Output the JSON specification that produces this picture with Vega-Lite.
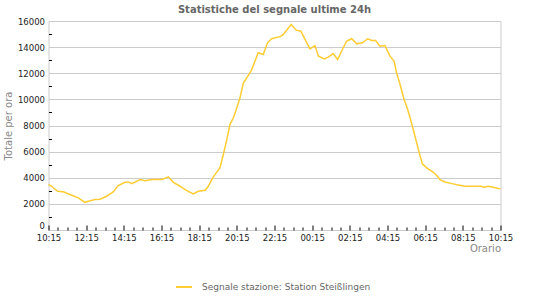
{
  "$schema": "https://vega.github.io/schema/vega-lite/v6.json",
  "width": 452,
  "height": 209,
  "autosize": {"type": "none"},
  "padding": {"left": 48.5, "top": 21, "right": 49.5, "bottom": 70},
  "title": {"text": "Statistiche del segnale ultime 24h", "font": "DejaVu Sans", "fontSize": 10, "fontWeight": "bold", "color": "#666666", "offset": 2, "anchor": "middle"},
  "config": {"view": {"stroke": "#cccccc"}, "font": "DejaVu Sans"},
  "data": {"values": [
    {"time": "2024-05-01T10:15", "value": 3500},
    {"time": "2024-05-01T10:25", "value": 3350},
    {"time": "2024-05-01T10:44", "value": 2960},
    {"time": "2024-05-01T11:02", "value": 2920},
    {"time": "2024-05-01T11:29", "value": 2660},
    {"time": "2024-05-01T11:50", "value": 2460},
    {"time": "2024-05-01T12:11", "value": 2120},
    {"time": "2024-05-01T12:22", "value": 2200},
    {"time": "2024-05-01T12:43", "value": 2330},
    {"time": "2024-05-01T12:59", "value": 2350},
    {"time": "2024-05-01T13:20", "value": 2580},
    {"time": "2024-05-01T13:41", "value": 2920},
    {"time": "2024-05-01T13:57", "value": 3400},
    {"time": "2024-05-01T14:19", "value": 3650},
    {"time": "2024-05-01T14:29", "value": 3680},
    {"time": "2024-05-01T14:40", "value": 3550},
    {"time": "2024-05-01T15:07", "value": 3860},
    {"time": "2024-05-01T15:22", "value": 3780},
    {"time": "2024-05-01T15:44", "value": 3860},
    {"time": "2024-05-01T16:16", "value": 3860},
    {"time": "2024-05-01T16:37", "value": 4070},
    {"time": "2024-05-01T16:53", "value": 3650},
    {"time": "2024-05-01T17:14", "value": 3350},
    {"time": "2024-05-01T17:30", "value": 3090},
    {"time": "2024-05-01T17:56", "value": 2760},
    {"time": "2024-05-01T18:12", "value": 2960},
    {"time": "2024-05-01T18:34", "value": 3040},
    {"time": "2024-05-01T18:44", "value": 3350},
    {"time": "2024-05-01T19:00", "value": 4070},
    {"time": "2024-05-01T19:21", "value": 4760},
    {"time": "2024-05-01T19:32", "value": 5780},
    {"time": "2024-05-01T19:43", "value": 6920},
    {"time": "2024-05-01T19:53", "value": 8070},
    {"time": "2024-05-01T20:04", "value": 8590},
    {"time": "2024-05-01T20:15", "value": 9350},
    {"time": "2024-05-01T20:25", "value": 10120},
    {"time": "2024-05-01T20:36", "value": 11270},
    {"time": "2024-05-01T20:50", "value": 11780},
    {"time": "2024-05-01T21:00", "value": 12160},
    {"time": "2024-05-01T21:11", "value": 12800},
    {"time": "2024-05-01T21:23", "value": 13570},
    {"time": "2024-05-01T21:39", "value": 13440},
    {"time": "2024-05-01T21:53", "value": 14330},
    {"time": "2024-05-01T22:06", "value": 14640},
    {"time": "2024-05-01T22:33", "value": 14800},
    {"time": "2024-05-01T22:43", "value": 14970},
    {"time": "2024-05-01T23:08", "value": 15730},
    {"time": "2024-05-01T23:24", "value": 15300},
    {"time": "2024-05-01T23:39", "value": 15220},
    {"time": "2024-05-01T23:58", "value": 14330},
    {"time": "2024-05-02T00:08", "value": 13870},
    {"time": "2024-05-02T00:24", "value": 14120},
    {"time": "2024-05-02T00:35", "value": 13310},
    {"time": "2024-05-02T00:54", "value": 13100},
    {"time": "2024-05-02T01:06", "value": 13230},
    {"time": "2024-05-02T01:22", "value": 13510},
    {"time": "2024-05-02T01:36", "value": 13050},
    {"time": "2024-05-02T01:54", "value": 13950},
    {"time": "2024-05-02T02:05", "value": 14460},
    {"time": "2024-05-02T02:21", "value": 14640},
    {"time": "2024-05-02T02:37", "value": 14250},
    {"time": "2024-05-02T02:55", "value": 14330},
    {"time": "2024-05-02T03:12", "value": 14640},
    {"time": "2024-05-02T03:25", "value": 14510},
    {"time": "2024-05-02T03:37", "value": 14510},
    {"time": "2024-05-02T03:51", "value": 14070},
    {"time": "2024-05-02T04:07", "value": 14120},
    {"time": "2024-05-02T04:23", "value": 13310},
    {"time": "2024-05-02T04:36", "value": 12920},
    {"time": "2024-05-02T04:44", "value": 12030},
    {"time": "2024-05-02T04:55", "value": 11140},
    {"time": "2024-05-02T05:08", "value": 9990},
    {"time": "2024-05-02T05:16", "value": 9480},
    {"time": "2024-05-02T05:27", "value": 8590},
    {"time": "2024-05-02T05:37", "value": 7690},
    {"time": "2024-05-02T05:48", "value": 6670},
    {"time": "2024-05-02T05:56", "value": 5910},
    {"time": "2024-05-02T06:06", "value": 5060},
    {"time": "2024-05-02T06:20", "value": 4760},
    {"time": "2024-05-02T06:41", "value": 4420},
    {"time": "2024-05-02T06:52", "value": 4170},
    {"time": "2024-05-02T07:02", "value": 3860},
    {"time": "2024-05-02T07:18", "value": 3680},
    {"time": "2024-05-02T07:40", "value": 3550},
    {"time": "2024-05-02T08:01", "value": 3450},
    {"time": "2024-05-02T08:22", "value": 3350},
    {"time": "2024-05-02T08:48", "value": 3350},
    {"time": "2024-05-02T09:12", "value": 3350},
    {"time": "2024-05-02T09:23", "value": 3270},
    {"time": "2024-05-02T09:36", "value": 3350},
    {"time": "2024-05-02T09:52", "value": 3270},
    {"time": "2024-05-02T10:08", "value": 3170},
    {"time": "2024-05-02T10:15", "value": 3150}
  ]},
  "layer": [
    {
      "mark": {"type": "line", "color": "#ffcc33", "strokeWidth": 1.5},
      "encoding": {
        "x": {"field": "time", "type": "temporal",
          "scale": {"domain": [{"year": 2024, "month": 5, "date": 1, "hours": 10, "minutes": 15}, {"year": 2024, "month": 5, "date": 2, "hours": 10, "minutes": 15}], "nice": false},
          "axis": {"orient": "bottom", "format": "%H:%M", "title": "Orario", "titleAnchor": "end", "titleColor": "#888888", "titleFontSize": 10, "titleFontWeight": "normal", "titlePadding": 2,
            "labelFontSize": 8.5, "labelColor": "#222222", "labelPadding": 8, "labelFlush": false, "labelOverlap": false,
            "tickSize": -5, "tickColor": "#000000", "domain": false, "grid": false,
            "values": [
              {"year": 2024, "month": 5, "date": 1, "hours": 10, "minutes": 15},
              {"year": 2024, "month": 5, "date": 1, "hours": 12, "minutes": 15},
              {"year": 2024, "month": 5, "date": 1, "hours": 14, "minutes": 15},
              {"year": 2024, "month": 5, "date": 1, "hours": 16, "minutes": 15},
              {"year": 2024, "month": 5, "date": 1, "hours": 18, "minutes": 15},
              {"year": 2024, "month": 5, "date": 1, "hours": 20, "minutes": 15},
              {"year": 2024, "month": 5, "date": 1, "hours": 22, "minutes": 15},
              {"year": 2024, "month": 5, "date": 2, "hours": 0, "minutes": 15},
              {"year": 2024, "month": 5, "date": 2, "hours": 2, "minutes": 15},
              {"year": 2024, "month": 5, "date": 2, "hours": 4, "minutes": 15},
              {"year": 2024, "month": 5, "date": 2, "hours": 6, "minutes": 15},
              {"year": 2024, "month": 5, "date": 2, "hours": 8, "minutes": 15},
              {"year": 2024, "month": 5, "date": 2, "hours": 10, "minutes": 15}
            ]}},
        "y": {"field": "value", "type": "quantitative",
          "scale": {"domain": [0, 16000], "nice": false},
          "axis": {"orient": "left", "title": "Totale per ora", "titleColor": "#888888", "titleFontSize": 10, "titleFontWeight": "normal",
            "titleX": -40.5, "titleY": 104.5, "titleAngle": -90, "titleAlign": "center", "titleBaseline": "middle",
            "values": [0, 2000, 4000, 6000, 8000, 10000, 12000, 14000, 16000], "format": "d",
            "labelFontSize": 8.5, "labelColor": "#222222", "labelPadding": 4,
            "labelBaseline": {"condition": {"test": "datum.value == 0", "value": "bottom"}, "value": "middle"},
            "ticks": false, "domain": false, "grid": true, "gridColor": "#cccccc"}},
        "color": {"datum": "Segnale stazione: Station Steißlingen", "type": "nominal",
          "scale": {"range": ["#ffcc33"]},
          "legend": {"title": null, "orient": "none", "legendX": 126.5, "legendY": 257, "symbolType": "stroke", "symbolSize": 256, "symbolStrokeWidth": 2, "labelFontSize": 9, "labelColor": "#666666", "labelOffset": 9, "labelLimit": 0}}
      }
    },
    {
      "mark": {"type": "line", "opacity": 0},
      "encoding": {
        "x": {"field": "time", "type": "temporal",
          "scale": {"domain": [{"year": 2024, "month": 5, "date": 1, "hours": 10, "minutes": 15}, {"year": 2024, "month": 5, "date": 2, "hours": 10, "minutes": 15}], "nice": false},
          "axis": {"orient": "bottom", "title": null, "labels": false, "tickSize": -3, "tickColor": "#000000", "domain": false, "grid": false,
            "values": [
              {"year": 2024, "month": 5, "date": 1, "hours": 10, "minutes": 45},
              {"year": 2024, "month": 5, "date": 1, "hours": 11, "minutes": 15},
              {"year": 2024, "month": 5, "date": 1, "hours": 11, "minutes": 45},
              {"year": 2024, "month": 5, "date": 1, "hours": 12, "minutes": 45},
              {"year": 2024, "month": 5, "date": 1, "hours": 13, "minutes": 15},
              {"year": 2024, "month": 5, "date": 1, "hours": 13, "minutes": 45},
              {"year": 2024, "month": 5, "date": 1, "hours": 14, "minutes": 45},
              {"year": 2024, "month": 5, "date": 1, "hours": 15, "minutes": 15},
              {"year": 2024, "month": 5, "date": 1, "hours": 15, "minutes": 45},
              {"year": 2024, "month": 5, "date": 1, "hours": 16, "minutes": 45},
              {"year": 2024, "month": 5, "date": 1, "hours": 17, "minutes": 15},
              {"year": 2024, "month": 5, "date": 1, "hours": 17, "minutes": 45},
              {"year": 2024, "month": 5, "date": 1, "hours": 18, "minutes": 45},
              {"year": 2024, "month": 5, "date": 1, "hours": 19, "minutes": 15},
              {"year": 2024, "month": 5, "date": 1, "hours": 19, "minutes": 45},
              {"year": 2024, "month": 5, "date": 1, "hours": 20, "minutes": 45},
              {"year": 2024, "month": 5, "date": 1, "hours": 21, "minutes": 15},
              {"year": 2024, "month": 5, "date": 1, "hours": 21, "minutes": 45},
              {"year": 2024, "month": 5, "date": 1, "hours": 22, "minutes": 45},
              {"year": 2024, "month": 5, "date": 1, "hours": 23, "minutes": 15},
              {"year": 2024, "month": 5, "date": 1, "hours": 23, "minutes": 45},
              {"year": 2024, "month": 5, "date": 2, "hours": 0, "minutes": 45},
              {"year": 2024, "month": 5, "date": 2, "hours": 1, "minutes": 15},
              {"year": 2024, "month": 5, "date": 2, "hours": 1, "minutes": 45},
              {"year": 2024, "month": 5, "date": 2, "hours": 2, "minutes": 45},
              {"year": 2024, "month": 5, "date": 2, "hours": 3, "minutes": 15},
              {"year": 2024, "month": 5, "date": 2, "hours": 3, "minutes": 45},
              {"year": 2024, "month": 5, "date": 2, "hours": 4, "minutes": 45},
              {"year": 2024, "month": 5, "date": 2, "hours": 5, "minutes": 15},
              {"year": 2024, "month": 5, "date": 2, "hours": 5, "minutes": 45},
              {"year": 2024, "month": 5, "date": 2, "hours": 6, "minutes": 45},
              {"year": 2024, "month": 5, "date": 2, "hours": 7, "minutes": 15},
              {"year": 2024, "month": 5, "date": 2, "hours": 7, "minutes": 45},
              {"year": 2024, "month": 5, "date": 2, "hours": 8, "minutes": 45},
              {"year": 2024, "month": 5, "date": 2, "hours": 9, "minutes": 15},
              {"year": 2024, "month": 5, "date": 2, "hours": 9, "minutes": 45}
            ]}},
        "y": {"field": "value", "type": "quantitative",
          "scale": {"domain": [0, 16000], "nice": false},
          "axis": {"orient": "left", "title": null, "labels": false, "tickSize": -3, "tickColor": "#000000", "domain": false, "grid": false,
            "values": [1000, 3000, 5000, 7000, 9000, 11000, 13000, 15000]}}
      }
    }
  ],
  "resolve": {"scale": {"x": "independent", "y": "independent"}, "axis": {"x": "independent", "y": "independent"}}
}
